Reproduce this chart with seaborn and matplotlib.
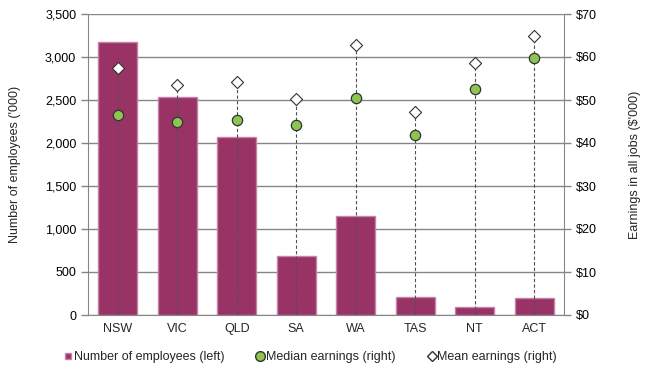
import matplotlib
matplotlib.use("Agg")
import matplotlib.pyplot as plt
from matplotlib.lines import Line2D
from matplotlib.ticker import FuncFormatter, FixedLocator
import pandas as pd
import seaborn as sns

sns.set_style("white")
plt.rcParams['font.family'] = ['Liberation Sans', 'DejaVu Sans']

# data
states = ['NSW', 'VIC', 'QLD', 'SA', 'WA', 'TAS', 'NT', 'ACT']
employees = [3180, 2535, 2070, 690, 1150, 206, 90, 194]      # '000
median_earn = [46.4, 44.8, 45.3, 44.1, 50.4, 41.8, 52.5, 59.7]  # $'000
mean_earn = [57.4, 53.4, 54.3, 50.3, 62.9, 47.1, 58.5, 64.9]    # $'000

df = pd.DataFrame({'state': states, 'employees': employees,
                   'median': median_earn, 'mean': mean_earn})

bar_col = '#993366'
edge_col = '#c484a8'
green = '#8dc452'
grid_col = '#868686'

fig = plt.figure(figsize=(6.45, 3.81), dpi=100)
ax = fig.add_axes([88 / 645, 66 / 381, 476 / 645, 301 / 381])

sns.barplot(data=df, x='state', y='employees', color=bar_col, width=0.65,
            edgecolor=edge_col, linewidth=1, saturation=1, ax=ax, zorder=2)
ax.set_xlim(-0.5, len(states) - 0.5)
ax.set_ylim(0, 3500)
ax.set_yticks(range(0, 3501, 500))
ax.yaxis.set_major_formatter(FuncFormatter(lambda v, p: f'{int(v):,}'))
ax.grid(axis='y', color=grid_col, linewidth=1)
ax.set_axisbelow(True)
ax.set_xlabel('')
ax.set_ylabel("Number of employees ('000)", fontsize=9, labelpad=17)

ax2 = ax.twinx()
ax2.set_ylim(0, 70)
ax2.set_yticks(range(0, 71, 10))
ax2.yaxis.set_major_formatter(FuncFormatter(lambda v, p: f'${int(v)}'))
ax2.set_ylabel("Earnings in all jobs ($'000)", fontsize=9, labelpad=23)

# dashed drop lines from zero to the mean
ax2.vlines(range(len(states)), 0, df['mean'], colors='#505050',
           linestyles=(0, (3, 2)), linewidth=0.8, zorder=3)
sns.scatterplot(x=range(len(states)), y=df['median'], ax=ax2, color=green,
                edgecolor='#333333', linewidth=0.9, s=55, marker='o', zorder=4)
sns.scatterplot(x=range(len(states)), y=df['mean'], ax=ax2, color='white',
                edgecolor='#333333', linewidth=0.8, s=38, marker='D', zorder=4)
ax2.set_xlim(-0.5, len(states) - 0.5)

for a in (ax, ax2):
    for s in a.spines.values():
        s.set_visible(False)
    a.tick_params(axis='y', labelsize=9, colors='black', length=5,
                  width=1, direction='out')
    a.tick_params(axis='y', color=grid_col)

ax.spines['left'].set_visible(True)
ax.spines['left'].set_color(grid_col)
ax.spines['bottom'].set_visible(True)
ax.spines['bottom'].set_color(grid_col)
ax2.spines['right'].set_visible(True)
ax2.spines['right'].set_color(grid_col)
ax.tick_params(axis='y', left=True)
ax2.tick_params(axis='y', right=True)

ax.tick_params(axis='x', which='major', length=0, labelsize=9, pad=6)
ax.xaxis.set_minor_locator(FixedLocator([i - 0.5 for i in range(len(states) + 1)]))
ax.tick_params(axis='x', which='minor', length=5, color=grid_col, width=1)

handles = [
    Line2D([], [], marker='s', linestyle='none', markersize=5,
           markerfacecolor=bar_col, markeredgecolor=edge_col),
    Line2D([], [], marker='o', linestyle='none', markersize=7,
           markerfacecolor=green, markeredgecolor='#333333'),
    Line2D([], [], marker='D', linestyle='none', markersize=5,
           markerfacecolor='white', markeredgecolor='#333333'),
]
labels = ['Number of employees (left)', 'Median earnings (right)',
          'Mean earnings (right)']
fig.legend(handles, labels, loc='center', ncol=3, frameon=False, fontsize=9,
           bbox_to_anchor=(310 / 645, 1 - 357 / 381), handletextpad=0.05,
           columnspacing=2.5, handlelength=0.8)

fig.savefig('out.png', dpi=100)
